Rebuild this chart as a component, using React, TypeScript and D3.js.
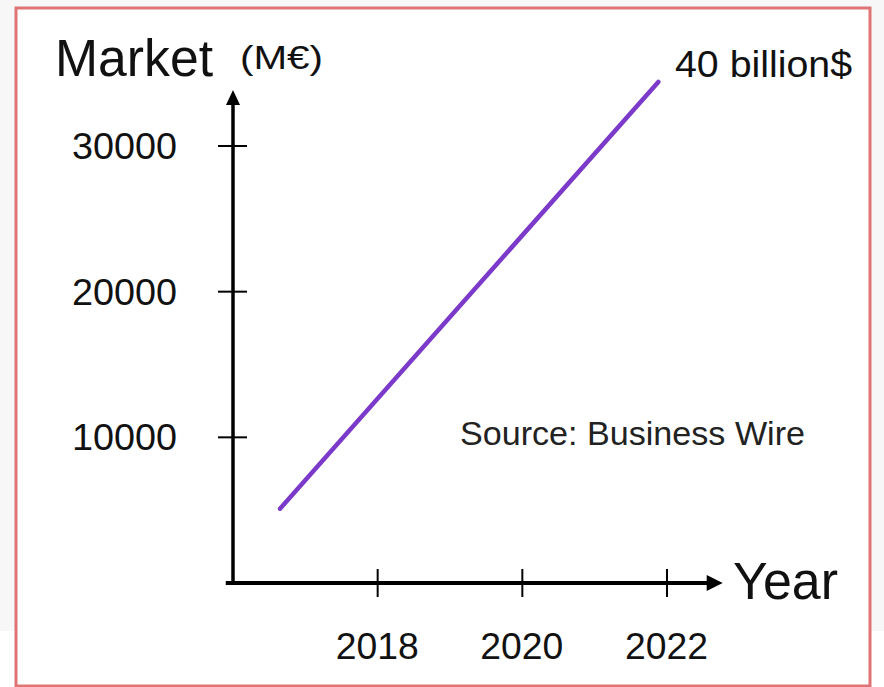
import React from "react";
import * as d3 from "d3";

// ---- data ----
const years: number[] = [2016.65, 2021.88];
const marketValues: number[] = [5100, 34400];
const yTicks: number[] = [10000, 20000, 30000];
const xTicks: number[] = [2018, 2020, 2022];
const yTickLabels: string[] = ["10000", "20000", "30000"];
const xTickLabels: string[] = ["2018", "2020", "2022"];
const xAxisExtent: number[] = [2015.9, 2022.77];
const yAxisExtent: number[] = [0, 33850];

const W = 884;
const H = 687;
const FONT = "'Liberation Sans', Arial, Helvetica, sans-serif";

export default function App() {
  const x = d3.scaleLinear().domain([2016, 2022]).range([233, 667]);
  const y = d3.scaleLinear().domain([0, 30000]).range([583, 146]);

  const line = d3
    .line<number>()
    .x((_, i) => x(years[i]))
    .y((d) => y(d));

  const x0 = x(2016);
  const y0 = y(0);
  const xEnd = x(xAxisExtent[1]);
  const yTop = y(yAxisExtent[1]);

  return (
    <svg
      width={W}
      height={H}
      style={{ position: "absolute", left: 0, top: 0, display: "block" }}
      fontFamily={FONT}
    >
      <rect x={0} y={0} width={W} height={H} fill="#ffffff" />
      <rect x={0} y={0} width={W} height={631} fill="#f7f7f7" />
      <rect x={16} y={8} width={854} height={678} fill="#ffffff" stroke="#e07474" strokeWidth={3} />

      {/* axes */}
      <line x1={x(xAxisExtent[0])} y1={y0} x2={xEnd - 14} y2={y0} stroke="#000" strokeWidth={4} />
      <path d={`M${xEnd},${y0} L${xEnd - 16},${y0 - 8} L${xEnd - 16},${y0 + 8} Z`} fill="#000" />
      <line x1={x0} y1={y0 + 2} x2={x0} y2={yTop + 12} stroke="#000" strokeWidth={3.5} />
      <path d={`M${x0},${yTop} L${x0 - 7},${yTop + 15} L${x0 + 7},${yTop + 15} Z`} fill="#000" />

      {/* y ticks */}
      {yTicks.map((t, i) => (
        <g key={"y" + t}>
          <line x1={x0 - 15} x2={x0 + 14} y1={y(t)} y2={y(t)} stroke="#000" strokeWidth={2} />
          <text x={72} y={y(t) + 13} fontSize={37} fill="#111" textLength={105} lengthAdjust="spacingAndGlyphs">
            {yTickLabels[i]}
          </text>
        </g>
      ))}

      {/* x ticks */}
      {xTicks.map((t, i) => (
        <g key={"x" + t}>
          <line x1={x(t)} x2={x(t)} y1={y0 - 14} y2={y0 + 14} stroke="#000" strokeWidth={2} />
          <text x={x(t) - 42} y={659} fontSize={37} fill="#111" textLength={83} lengthAdjust="spacingAndGlyphs">
            {xTickLabels[i]}
          </text>
        </g>
      ))}

      {/* data line */}
      <path d={line(marketValues) || ""} fill="none" stroke="#7b3ac9" strokeWidth={4.5} strokeLinecap="round" />

      {/* labels */}
      <text x={55} y={76} fontSize={51} fill="#111" textLength={158} lengthAdjust="spacingAndGlyphs">Market</text>
      <text x={240} y={69} fontSize={34} fill="#111" textLength={83} lengthAdjust="spacingAndGlyphs">(M€)</text>
      <text x={675} y={77} fontSize={37} fill="#111" textLength={177} lengthAdjust="spacingAndGlyphs">40 billion$</text>
      <text x={733} y={599} fontSize={51} fill="#111" textLength={105} lengthAdjust="spacingAndGlyphs">Year</text>
      <text x={460} y={445} fontSize={33} fill="#222" textLength={345} lengthAdjust="spacingAndGlyphs">Source: Business Wire</text>
    </svg>
  );
}
